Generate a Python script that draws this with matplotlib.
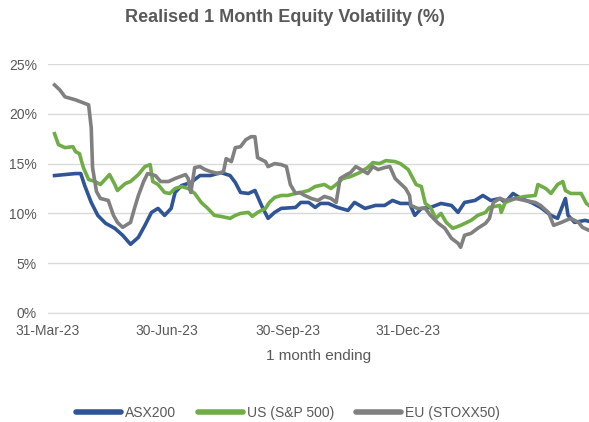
import pandas as pd
import matplotlib
matplotlib.use('Agg')
from matplotlib import pyplot as plt
import matplotlib.dates as mdates
from matplotlib.ticker import FuncFormatter

plt.rcParams['font.family'] = ['Liberation Sans', 'DejaVu Sans']

asx_dates = ["2023-04-05", "2023-04-13", "2023-04-21", "2023-04-25", "2023-04-28", "2023-05-03",
             "2023-05-08", "2023-05-14", "2023-05-21", "2023-05-27", "2023-06-02", "2023-06-08",
             "2023-06-13", "2023-06-18", "2023-06-23", "2023-06-28", "2023-07-03", "2023-07-06",
             "2023-07-11", "2023-07-18", "2023-07-25", "2023-08-02", "2023-08-10", "2023-08-17",
             "2023-08-21", "2023-08-25", "2023-08-31", "2023-09-05", "2023-09-10", "2023-09-15",
             "2023-09-20", "2023-09-25", "2023-10-06", "2023-10-10", "2023-10-16", "2023-10-21",
             "2023-10-25", "2023-10-31", "2023-11-07", "2023-11-15", "2023-11-20", "2023-11-28",
             "2023-12-06", "2023-12-13", "2023-12-19", "2023-12-25", "2024-01-01", "2024-01-05",
             "2024-01-10", "2024-01-17", "2024-01-25", "2024-02-02", "2024-02-07", "2024-02-12",
             "2024-02-20", "2024-02-26", "2024-03-03", "2024-03-10", "2024-03-14", "2024-03-20",
             "2024-03-26", "2024-04-03", "2024-04-10", "2024-04-18", "2024-04-23", "2024-04-29",
             "2024-05-01", "2024-05-06", "2024-05-14", "2024-05-17"]
asx_vol = [13.8, 13.9, 14.0, 14.0, 12.8, 11.1, 9.8, 9.0, 8.5, 7.8, 6.9, 7.6,
           8.8, 10.1, 10.5, 9.8, 10.5, 12.1, 12.8, 13.1, 13.8, 13.8, 14.1, 13.8,
           13.1, 12.1, 12.0, 12.3, 10.8, 9.5, 10.1, 10.5, 10.6, 11.1, 11.1, 10.6,
           11.0, 11.0, 10.6, 10.3, 11.1, 10.5, 10.8, 10.8, 11.3, 11.0, 11.0, 9.8,
           10.5, 10.6, 11.0, 10.8, 10.1, 11.1, 11.3, 11.8, 11.3, 11.5, 11.1, 12.0,
           11.5, 11.1, 10.6, 9.8, 9.5, 11.5, 9.8, 9.1, 9.3, 9.2]

us_dates = ["2023-04-05", "2023-04-08", "2023-04-13", "2023-04-19", "2023-04-21", "2023-04-24",
            "2023-04-27", "2023-05-01", "2023-05-06", "2023-05-10", "2023-05-17", "2023-05-21",
            "2023-05-23", "2023-05-29", "2023-06-02", "2023-06-08", "2023-06-13", "2023-06-17",
            "2023-06-19", "2023-06-23", "2023-06-28", "2023-07-02", "2023-07-06", "2023-07-11",
            "2023-07-16", "2023-07-21", "2023-07-26", "2023-07-31", "2023-08-05", "2023-08-10",
            "2023-08-17", "2023-08-21", "2023-08-25", "2023-08-31", "2023-09-03", "2023-09-07",
            "2023-09-13", "2023-09-16", "2023-09-20", "2023-09-25", "2023-09-30", "2023-10-06",
            "2023-10-10", "2023-10-16", "2023-10-21", "2023-10-28", "2023-11-02", "2023-11-06",
            "2023-11-11", "2023-11-17", "2023-11-24", "2023-11-30", "2023-12-04", "2023-12-09",
            "2023-12-14", "2023-12-21", "2023-12-25", "2023-12-31", "2024-01-02", "2024-01-06",
            "2024-01-10", "2024-01-13", "2024-01-17", "2024-01-21", "2024-01-25", "2024-01-29",
            "2024-02-03", "2024-02-09", "2024-02-17", "2024-02-22", "2024-02-28", "2024-03-02",
            "2024-03-10", "2024-03-11", "2024-03-14", "2024-03-22", "2024-03-29", "2024-04-06",
            "2024-04-08", "2024-04-14", "2024-04-18", "2024-04-23", "2024-04-27", "2024-04-29",
            "2024-05-03", "2024-05-11", "2024-05-15", "2024-05-17"]
us_vol = [18.0, 16.9, 16.6, 16.7, 16.2, 16.0,
          14.6, 13.4, 13.2, 12.9, 13.9, 12.9,
          12.3, 13.0, 13.2, 13.9, 14.7, 14.9,
          13.2, 12.9, 12.1, 12.0, 12.5, 12.7,
          12.5, 12.0, 11.1, 10.5, 9.8, 9.7,
          9.5, 9.8, 10.0, 10.1, 9.7, 10.1,
          10.5, 11.1, 11.6, 11.8, 11.8, 12.0,
          12.1, 12.3, 12.7, 12.9, 12.5, 12.9,
          13.5, 13.7, 14.1, 14.6, 15.1, 15.0,
          15.3, 15.2, 15.0, 14.4, 13.9, 12.9,
          12.7, 11.0, 10.6, 9.5, 10.0, 9.1,
          8.5, 8.8, 9.3, 9.8, 10.1, 10.6,
          10.8, 10.1, 11.1, 11.5, 11.7, 11.8,
          12.9, 12.5, 12.0, 12.9, 13.2, 12.3,
          12.0, 12.0, 11.0, 10.8]

eu_dates = ["2023-04-05", "2023-04-09", "2023-04-13", "2023-04-21", "2023-04-25", "2023-05-01",
            "2023-05-03", "2023-05-04", "2023-05-07", "2023-05-10", "2023-05-16", "2023-05-20",
            "2023-05-23", "2023-05-27", "2023-06-02", "2023-06-05", "2023-06-08", "2023-06-12",
            "2023-06-15", "2023-06-21", "2023-06-25", "2023-07-01", "2023-07-06", "2023-07-14",
            "2023-07-16", "2023-07-18", "2023-07-21", "2023-07-25", "2023-07-29", "2023-08-02",
            "2023-08-08", "2023-08-12", "2023-08-14", "2023-08-18", "2023-08-21", "2023-08-25",
            "2023-08-29", "2023-09-02", "2023-09-05", "2023-09-07", "2023-09-13", "2023-09-15",
            "2023-09-20", "2023-09-25", "2023-09-29", "2023-10-02", "2023-10-06", "2023-10-09",
            "2023-10-13", "2023-10-18", "2023-10-23", "2023-10-28", "2023-11-02", "2023-11-06",
            "2023-11-09", "2023-11-14", "2023-11-17", "2023-11-21", "2023-11-25", "2023-11-30",
            "2023-12-04", "2023-12-08", "2023-12-13", "2023-12-17", "2023-12-21", "2023-12-25",
            "2023-12-29", "2024-01-01", "2024-01-02", "2024-01-07", "2024-01-13", "2024-01-17",
            "2024-01-23", "2024-01-28", "2024-02-02", "2024-02-07", "2024-02-09", "2024-02-12",
            "2024-02-17", "2024-02-22", "2024-02-28", "2024-03-02", "2024-03-05", "2024-03-10",
            "2024-03-14", "2024-03-22", "2024-03-29", "2024-04-06", "2024-04-10", "2024-04-16",
            "2024-04-20", "2024-04-26", "2024-05-03", "2024-05-09", "2024-05-12", "2024-05-17"]
eu_vol = [22.9, 22.4, 21.7, 21.4, 21.2, 20.9,
          18.6, 14.6, 12.2, 11.5, 11.3, 9.8,
          9.1, 8.6, 9.1, 10.5, 11.8, 13.2,
          14.0, 13.8, 13.2, 13.2, 13.5, 13.9,
          13.5, 12.1, 14.6, 14.7, 14.4, 14.2,
          14.0, 14.2, 15.5, 15.2, 16.6, 16.7,
          17.4, 17.7, 17.7, 15.6, 15.2, 14.7,
          15.0, 14.9, 14.7, 12.9, 12.0, 12.1,
          11.8, 11.5, 11.3, 11.7, 11.5, 11.1,
          13.5, 13.9, 14.1, 14.7, 14.4, 14.0,
          14.7, 14.4, 14.6, 14.7, 13.5, 13.0,
          12.5, 11.8, 10.8, 10.5, 10.5, 9.8,
          9.0, 8.5, 7.5, 7.0, 6.6, 7.8,
          8.0, 8.5, 9.0, 9.5, 11.1, 11.5,
          11.3, 11.5, 11.3, 11.1, 10.8, 10.1,
          8.8, 9.1, 9.5, 9.1, 8.6, 8.3]

tick_dates = ["2023-03-31", "2023-06-30", "2023-09-30", "2023-12-31"]

grey_text = '#595959'

fig = plt.figure(figsize=(5.89, 4.22), dpi=100)
ax = fig.add_axes([48 / 589, 1 - 313 / 422, 541 / 589, 249 / 422])

ax.plot(pd.to_datetime(asx_dates), asx_vol, color='#2F5597', lw=2.6, label='ASX200', zorder=3)
ax.plot(pd.to_datetime(us_dates), us_vol, color='#70AD47', lw=2.6, label='US (S&P 500)', zorder=3)
ax.plot(pd.to_datetime(eu_dates), eu_vol, color='#808080', lw=2.6, label='EU (STOXX50)', zorder=3)

ax.set_ylim(0, 25)
ax.set_yticks([0, 5, 10, 15, 20, 25])
ax.yaxis.set_major_formatter(FuncFormatter(lambda v, p: f"{v:.0f}%"))
ax.set_xlim(pd.Timestamp("2023-03-31"), pd.Timestamp("2024-05-17"))
ax.set_xticks(pd.to_datetime(tick_dates))
ax.xaxis.set_major_formatter(mdates.DateFormatter('%d-%b-%y'))

ax.grid(axis='y', color='#D9D9D9', lw=1)
ax.set_axisbelow(True)
for s in ['top', 'right', 'left']:
    ax.spines[s].set_visible(False)
ax.spines['bottom'].set_color('#D9D9D9')
ax.tick_params(length=0, labelsize=10, labelcolor=grey_text)
ax.tick_params(axis='y', pad=8)
ax.tick_params(axis='x', pad=8)

ax.set_xlabel("1 month ending", fontsize=11, color=grey_text, labelpad=8)
fig.text(285 / 589, 1 - 17 / 422, "Realised 1 Month Equity Volatility (%)", ha='center', va='center',
         fontsize=13, fontweight='bold', color=grey_text)

fig.legend(loc='center', bbox_to_anchor=(288 / 589, 1 - 413 / 422), ncol=3, frameon=False,
           fontsize=10, labelcolor=grey_text, handlelength=3.2, handletextpad=0.3,
           columnspacing=1.6, borderaxespad=0)
for line in fig.legends[0].get_lines():
    line.set_linewidth(4)
    line.set_solid_capstyle('round')

fig.savefig('out.png', dpi=100)
